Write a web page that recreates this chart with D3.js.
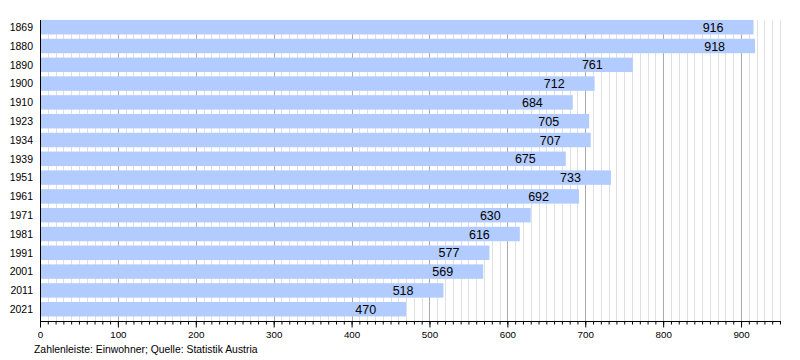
<!DOCTYPE html>
<html>
<head>
<meta charset="utf-8">
<script src="https://cdn.jsdelivr.net/npm/d3@7"></script>
<style>
  body { margin: 0; background: #fff; }
  svg { font-family: "Liberation Sans", Arial, sans-serif; }
</style>
</head>
<body>
<div id="chart"></div>
<script>
// population per census year
const years = ["1869","1880","1890","1900","1910","1923","1934","1939","1951","1961","1971","1981","1991","2001","2011","2021"];
const population = [916, 918, 761, 712, 684, 705, 707, 675, 733, 692, 630, 616, 577, 569, 518, 470];
const majorTicks = [0,100,200,300,400,500,600,700,800,900];
const footer = "Zahlenleiste: Einwohner; Quelle: Statistik Austria";

const data = years.map((y, i) => ({year: y, value: population[i]}));

const W = 800, H = 360;
const plotLeft = 40, plotRight = 780, plotTop = 20, plotBottom = 321;

const svg = d3.select("#chart").append("svg")
    .attr("width", W)
    .attr("height", H);

const x = d3.scaleLinear()
  .domain([0, 950])
  .range([plotLeft, plotRight]);

const y = d3.scaleBand()
  .domain(years)
  .range([17.8, 318.6])
  .paddingInner(0.23)
  .paddingOuter(0.115);

// grid lines: minor every 10, major every 100
const minor = d3.range(10, 951, 10).filter(v => v % 100 !== 0);
svg.append("g").selectAll("line")
  .data(minor)
  .enter().append("line")
    .attr("x1", d => Math.round(x(d)) + 0.5)
    .attr("x2", d => Math.round(x(d)) + 0.5)
    .attr("y1", plotTop)
    .attr("y2", plotBottom)
    .attr("stroke", "#e0e0e0");

svg.append("g").selectAll("line")
  .data(majorTicks.filter(d => d > 0))
  .enter().append("line")
    .attr("x1", d => Math.round(x(d)) + 0.5)
    .attr("x2", d => Math.round(x(d)) + 0.5)
    .attr("y1", plotTop)
    .attr("y2", plotBottom)
    .attr("stroke", "#aaaaaa");

// bars
svg.selectAll(".bar")
  .data(data)
  .enter()
  .append("rect")
    .attr("class", "bar")
    .attr("x", x(0))
    .attr("y", d => y(d.year))
    .attr("width", d => x(d.value) - x(0))
    .attr("height", y.bandwidth())
    .attr("fill", "#b3ccff");

// value labels inside bars
svg.selectAll(".val")
  .data(data)
  .enter()
  .append("text")
    .attr("class", "val")
    .attr("x", d => x(d.value) - 30)
    .attr("y", d => y(d.year) + y.bandwidth() / 2)
    .attr("dy", "0.36em")
    .attr("text-anchor", "end")
    .attr("font-size", 12.5)
    .attr("fill", "#000")
    .text(d => d.value);

// year labels
svg.selectAll(".yr")
  .data(data)
  .enter()
  .append("text")
    .attr("class", "yr")
    .attr("x", 33)
    .attr("y", d => y(d.year) + y.bandwidth() / 2)
    .attr("dy", "0.36em")
    .attr("text-anchor", "end")
    .attr("font-size", 10.5)
    .text(d => d.year);

// x axis with minor ticks
const axisY = plotBottom + 0.5;
svg.append("g")
    .attr("transform", `translate(0,${axisY})`)
    .call(d3.axisBottom(x).tickValues(d3.range(0, 951, 10)).tickSize(3).tickFormat(""))
    .call(g => g.select(".domain").remove())
    .call(g => g.selectAll("line").attr("stroke", "#000"));

svg.append("g")
    .attr("transform", `translate(0,${axisY})`)
    .call(d3.axisBottom(x).tickValues(majorTicks).tickSize(6).tickPadding(4))
    .call(g => g.select(".domain").remove())
    .call(g => g.selectAll("line").attr("stroke", "#000"))
    .call(g => g.selectAll("text")
      .attr("font-size", 9.8)
      .attr("font-family", "Liberation Sans, Arial, sans-serif")
      .attr("fill", "#000"));

svg.append("line")
    .attr("x1", plotLeft)
    .attr("x2", plotRight + 1)
    .attr("y1", axisY)
    .attr("y2", axisY)
    .attr("stroke", "#000");

svg.append("line")
    .attr("x1", plotLeft + 0.5)
    .attr("x2", plotLeft + 0.5)
    .attr("y1", plotTop)
    .attr("y2", axisY)
    .attr("stroke", "#000");

// footer
svg.append("text")
    .attr("x", 34)
    .attr("y", 353)
    .attr("font-size", 10.4)
    .text(footer);
</script>
</body>
</html>
